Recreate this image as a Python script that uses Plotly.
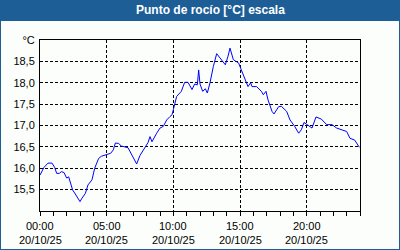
import plotly.graph_objects as go

hours = [0.0, 0.3, 0.6, 0.9, 1.1, 1.25, 1.45, 1.6, 1.8, 2.0, 2.15, 2.3, 2.45, 2.6, 2.8, 3.0, 3.15, 3.4, 3.6, 3.9,
         4.1, 4.4, 4.6, 5.0, 5.3, 5.5, 5.65, 5.9, 6.1, 6.6, 6.9, 7.25, 7.5, 7.9, 8.1, 8.25, 8.4, 8.75, 9.0, 9.25,
         9.5, 9.75, 9.9, 10.0, 10.25, 10.6, 10.85, 11.1, 11.4, 11.6, 11.8, 11.9, 12.0, 12.2, 12.4, 12.55, 12.75,
         13.0, 13.25, 13.5, 13.9, 14.1, 14.25, 14.5, 14.9, 15.1, 15.45, 15.6, 15.8, 15.9, 16.25, 16.6, 16.75,
         16.95, 17.1, 17.4, 17.55, 17.9, 18.1, 18.5, 18.75, 19.1, 19.4, 19.6, 19.8, 20.1, 20.4, 20.7, 21.1, 21.5,
         21.9, 22.25, 22.6, 23.0, 23.25, 23.6, 23.95]
dew_point = [15.84, 16.02, 16.12, 16.12, 16.02, 15.88, 15.88, 15.92, 15.90, 15.77, 15.80, 15.65, 15.49, 15.42,
             15.33, 15.22, 15.30, 15.41, 15.61, 15.73, 16.00, 16.23, 16.28, 16.31, 16.35, 16.43, 16.59, 16.58,
             16.52, 16.48, 16.30, 16.10, 16.30, 16.48, 16.60, 16.74, 16.62, 16.82, 16.94, 16.98, 17.13, 17.21,
             17.25, 17.37, 17.68, 17.80, 18.01, 18.01, 17.84, 17.97, 17.95, 18.30, 17.97, 17.80, 17.86, 17.76,
             18.00, 18.38, 18.68, 18.58, 18.42, 18.62, 18.81, 18.54, 18.46, 18.30, 18.03, 17.91, 18.00, 17.91,
             17.91, 17.80, 17.72, 17.80, 17.60, 17.33, 17.27, 17.44, 17.45, 17.33, 17.13, 16.98, 16.82, 16.90,
             17.07, 17.00, 16.94, 17.20, 17.15, 17.02, 17.02, 16.94, 16.90, 16.86, 16.70, 16.66, 16.49]

x_tickvals = [0, 5, 10, 15, 20]
x_ticktime = ["00:00", "05:00", "10:00", "15:00", "20:00"]
x_tickdate = ["20/10/25", "20/10/25", "20/10/25", "20/10/25", "20/10/25"]
y_tickvals = [15.5, 16.0, 16.5, 17.0, 17.5, 18.0, 18.5, 19.0]
y_ticktext = ["15,5", "16,0", "16,5", "17,0", "17,5", "18,0", "18,5", "°C"]
title = "Punto de rocío [°C] escala"

BLUE = "#1d5e96"
BG = "#fcfefc"
FONT = "Liberation Sans, Arial, sans-serif"

fig = go.Figure()
fig.add_trace(go.Scatter(x=hours, y=dew_point, mode="lines",
                         line=dict(color="#0000ff", width=1), hoverinfo="skip"))

# plot area: x 40..360, y 40..211
def px_x(p):
    return (p - 40) / 320.0

def px_y(p):
    return (211 - p) / 171.0

fig.add_shape(type="rect", xref="paper", yref="paper",
              x0=px_x(1), x1=px_x(399), y0=px_y(249), y1=px_y(21),
              fillcolor=BG, line=dict(width=0), layer="below")

fig.add_annotation(text="<b>" + title + "</b>", xref="paper", yref="paper",
                   x=px_x(210), y=px_y(10.5), xanchor="center", yanchor="middle",
                   showarrow=False, font=dict(family=FONT, size=12, color="white"))

# two-line x tick labels placed on the x scale
for xv, t1, t2 in zip(x_tickvals, x_ticktime, x_tickdate):
    fig.add_annotation(text=t1, xref="x", yref="paper", x=xv, y=px_y(225.5),
                       xanchor="center", yanchor="middle", showarrow=False,
                       font=dict(family=FONT, size=11, color="#000000"))
    fig.add_annotation(text=t2, xref="x", yref="paper", x=xv, y=px_y(240),
                       xanchor="center", yanchor="middle", showarrow=False,
                       font=dict(family=FONT, size=11, color="#000000"))

fig.update_layout(
    width=400, height=250,
    margin=dict(l=40, r=40, t=40, b=39, autoexpand=False),
    paper_bgcolor=BLUE, plot_bgcolor=BG,
    showlegend=False,
    font=dict(family=FONT, size=11, color="#000000"),
    xaxis=dict(range=[0, 24], tickvals=x_tickvals, showticklabels=False,
               showgrid=True, gridcolor="#000000", gridwidth=1, griddash="3px,2px",
               showline=True, linecolor="#000000", linewidth=1, mirror=True,
               ticks="outside", ticklen=4, tickcolor="#000000",
               minor=dict(dtick=1, tick0=0, ticks="outside", ticklen=4, tickcolor="#000000", showgrid=False),
               zeroline=False, fixedrange=True, automargin=False),
    yaxis=dict(range=[15, 19], tickvals=y_tickvals, ticktext=y_ticktext,
               showgrid=True, gridcolor="#000000", gridwidth=1, griddash="3px,2px",
               showline=True, linecolor="#000000", linewidth=1, mirror=True,
               ticks="outside", ticklen=2, tickcolor="rgba(0,0,0,0)",
               zeroline=False, fixedrange=True, automargin=False),
)

fig.write_html("out.html")
